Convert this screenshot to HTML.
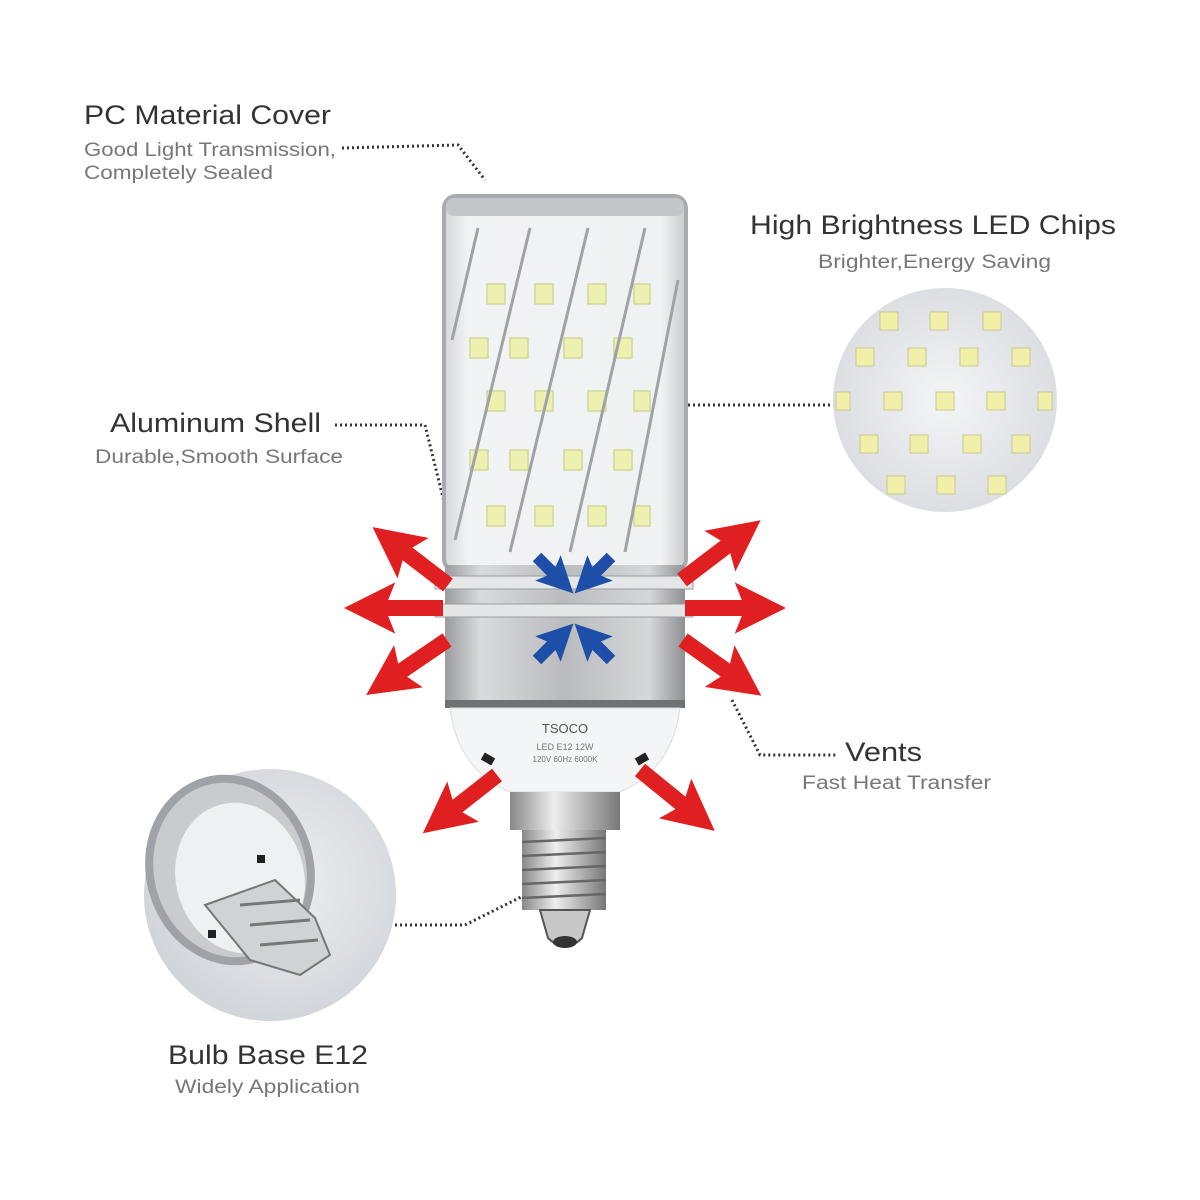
<!DOCTYPE html>
<html><head><meta charset="utf-8"><style>
html,body{margin:0;padding:0;background:#fff;width:1200px;height:1200px;overflow:hidden}
svg{display:block}
text{font-family:"Liberation Sans",sans-serif}
</style></head><body>
<svg width="1200" height="1200" viewBox="0 0 1200 1200" xmlns="http://www.w3.org/2000/svg">
<defs>
<linearGradient id="al" x1="0" x2="1">
<stop offset="0" stop-color="#9a9ca0"/><stop offset="0.15" stop-color="#d8dadc"/><stop offset="0.5" stop-color="#b9bbbe"/><stop offset="0.85" stop-color="#d5d7d9"/><stop offset="1" stop-color="#8e9094"/></linearGradient>
<linearGradient id="cov" x1="0" x2="1">
<stop offset="0" stop-color="#d4d6d8"/><stop offset="0.1" stop-color="#f2f3f4"/><stop offset="0.9" stop-color="#f0f1f2"/><stop offset="1" stop-color="#c8cacc"/></linearGradient>
<linearGradient id="scr" x1="0" x2="1">
<stop offset="0" stop-color="#888"/><stop offset="0.4" stop-color="#eee"/><stop offset="1" stop-color="#777"/></linearGradient>
<radialGradient id="c1" cx="0.5" cy="0.5" r="0.5"><stop offset="0" stop-color="#f4f5f7"/><stop offset="1" stop-color="#dcdee2"/></radialGradient>
<radialGradient id="c2" cx="0.55" cy="0.45" r="0.55"><stop offset="0" stop-color="#eef0f2"/><stop offset="1" stop-color="#d2d5da"/></radialGradient>
<marker id="rh" viewBox="0 0 10 10" refX="2" refY="5" markerWidth="3.2" markerHeight="3.2" orient="auto"><path d="M0,0 L10,5 L0,10 L2,5z" fill="#e02020"/></marker>
<marker id="bh" viewBox="0 0 10 10" refX="2" refY="5" markerWidth="3" markerHeight="3" orient="auto"><path d="M0,0 L10,5 L0,10 L2,5z" fill="#1e4fa8"/></marker>
</defs>

<!-- labels -->
<text x="84" y="124" font-size="27" fill="#333" textLength="247" lengthAdjust="spacingAndGlyphs">PC Material Cover</text>
<text x="84" y="156" font-size="19" fill="#777" textLength="252" lengthAdjust="spacingAndGlyphs">Good Light Transmission,</text>
<text x="84" y="179" font-size="19" fill="#777" textLength="189" lengthAdjust="spacingAndGlyphs">Completely Sealed</text>
<text x="750" y="234" font-size="27" fill="#333" textLength="366" lengthAdjust="spacingAndGlyphs">High Brightness LED Chips</text>
<text x="818" y="268" font-size="19" fill="#777" textLength="233" lengthAdjust="spacingAndGlyphs">Brighter,Energy Saving</text>
<text x="110" y="432" font-size="27" fill="#333" textLength="211" lengthAdjust="spacingAndGlyphs">Aluminum Shell</text>
<text x="95" y="463" font-size="19" fill="#777" textLength="248" lengthAdjust="spacingAndGlyphs">Durable,Smooth Surface</text>
<text x="845" y="761" font-size="27" fill="#333" textLength="77" lengthAdjust="spacingAndGlyphs">Vents</text>
<text x="802" y="789" font-size="19" fill="#777" textLength="189" lengthAdjust="spacingAndGlyphs">Fast Heat Transfer</text>
<text x="168" y="1064" font-size="27" fill="#333" textLength="200" lengthAdjust="spacingAndGlyphs">Bulb Base E12</text>
<text x="175" y="1093" font-size="19" fill="#777" textLength="185" lengthAdjust="spacingAndGlyphs">Widely Application</text>

<!-- leader lines -->
<g fill="none" stroke="#333" stroke-width="3" stroke-dasharray="2 3">
<path d="M342,148 L458,145 L485,180"/>
<path d="M335,425 L425,425 L488,680"/>
<path d="M835,405 L665,405 L620,456"/>
<path d="M732,700 L760,755 L838,755"/>
<path d="M355,925 L465,925 L525,895"/>
</g>

<!-- right circle -->
<circle cx="945" cy="400" r="112" fill="url(#c1)"/>
<g fill="#f0f0a8" stroke="#c8c890" stroke-width="1">
<rect x="880" y="312" width="18" height="18"/><rect x="930" y="312" width="18" height="18"/><rect x="983" y="312" width="18" height="18"/>
<rect x="856" y="348" width="18" height="18"/><rect x="908" y="348" width="18" height="18"/><rect x="960" y="348" width="18" height="18"/><rect x="1012" y="348" width="18" height="18"/>
<rect x="836" y="392" width="14" height="18"/><rect x="884" y="392" width="18" height="18"/><rect x="936" y="392" width="18" height="18"/><rect x="987" y="392" width="18" height="18"/><rect x="1038" y="392" width="14" height="18"/>
<rect x="860" y="435" width="18" height="18"/><rect x="910" y="435" width="18" height="18"/><rect x="963" y="435" width="18" height="18"/><rect x="1012" y="435" width="18" height="18"/>
<rect x="887" y="476" width="18" height="18"/><rect x="937" y="476" width="18" height="18"/><rect x="988" y="476" width="18" height="18"/>
</g>

<!-- bottom-left circle -->
<circle cx="270" cy="895" r="126" fill="url(#c2)"/>
<ellipse cx="230" cy="870" rx="80" ry="92" fill="#c9cbce" stroke="#9fa2a6" stroke-width="8" transform="rotate(-15 230 870)"/>
<ellipse cx="240" cy="878" rx="64" ry="76" fill="#eef0f2" transform="rotate(-15 240 878)"/>
<path d="M205,905 L275,880 L315,918 L330,955 L300,975 L250,960 Z" fill="#d0d2d5" stroke="#777" stroke-width="2"/>
<g stroke="#777" stroke-width="3"><line x1="240" y1="905" x2="300" y2="900"/><line x1="250" y1="925" x2="310" y2="920"/><line x1="260" y1="945" x2="318" y2="940"/></g>
<rect x="257" y="855" width="8" height="8" fill="#222"/><rect x="208" y="930" width="8" height="8" fill="#222"/>

<!-- cover -->
<rect x="444" y="196" width="242" height="375" rx="12" fill="url(#cov)" stroke="#a8aaae" stroke-width="4"/>
<rect x="446" y="198" width="238" height="18" rx="8" fill="#c4c6c9"/>
<g fill="#ecf1b0" stroke="#cfd79a" stroke-width="1.5">
<rect x="487" y="284" width="18" height="20"/><rect x="535" y="284" width="18" height="20"/><rect x="588" y="284" width="18" height="20"/><rect x="634" y="284" width="16" height="20"/>
<rect x="470" y="338" width="18" height="20"/><rect x="510" y="338" width="18" height="20"/><rect x="564" y="338" width="18" height="20"/><rect x="614" y="338" width="18" height="20"/>
<rect x="487" y="391" width="18" height="20"/><rect x="535" y="391" width="18" height="20"/><rect x="588" y="391" width="18" height="20"/><rect x="634" y="391" width="16" height="20"/>
<rect x="470" y="450" width="18" height="20"/><rect x="510" y="450" width="18" height="20"/><rect x="564" y="450" width="18" height="20"/><rect x="614" y="450" width="18" height="20"/>
<rect x="487" y="506" width="18" height="20"/><rect x="535" y="506" width="18" height="20"/><rect x="588" y="506" width="18" height="20"/><rect x="634" y="506" width="16" height="20"/>
</g>
<g stroke="#a0a2a6" stroke-width="3" fill="none">
<line x1="530" y1="228" x2="455" y2="540"/><line x1="588" y1="228" x2="510" y2="552"/><line x1="645" y1="228" x2="570" y2="552"/><line x1="678" y1="280" x2="625" y2="552"/><line x1="478" y1="228" x2="452" y2="340"/>
</g>

<!-- aluminum shell -->
<rect x="445" y="565" width="240" height="142" rx="4" fill="url(#al)"/>
<rect x="435" y="576" width="258" height="13" fill="#e4e6e8" stroke="#9a9ca0"/>
<rect x="435" y="604" width="258" height="13" fill="#e4e6e8" stroke="#9a9ca0"/>
<rect x="445" y="700" width="240" height="8" fill="#6f7175"/>

<!-- white base -->
<path d="M450,708 L680,708 Q672,770 620,792 L510,792 Q458,770 450,708 Z" fill="#f4f5f6" stroke="#dcdde0"/>
<text x="565" y="733" font-size="13" fill="#555" text-anchor="middle" font-family="Liberation Serif">TSOCO</text>
<text x="565" y="750" font-size="9" fill="#777" text-anchor="middle">LED E12 12W</text>
<text x="565" y="762" font-size="8" fill="#777" text-anchor="middle">120V 60Hz 6000K</text>
<rect x="482" y="755" width="12" height="8" fill="#222" transform="rotate(30 488 759)"/>
<rect x="636" y="755" width="12" height="8" fill="#222" transform="rotate(-30 642 759)"/>

<!-- screw -->
<rect x="510" y="792" width="110" height="38" fill="url(#scr)"/>
<rect x="522" y="830" width="84" height="80" fill="url(#scr)"/>
<g stroke="#666" stroke-width="2.5"><line x1="522" y1="842" x2="606" y2="838"/><line x1="522" y1="856" x2="606" y2="852"/><line x1="522" y1="870" x2="606" y2="866"/><line x1="522" y1="884" x2="606" y2="880"/><line x1="522" y1="898" x2="606" y2="894"/></g>
<path d="M540,910 L590,910 L582,938 Q565,955 548,938 Z" fill="#c8c8c8" stroke="#555" stroke-width="2"/>
<ellipse cx="565" cy="942" rx="12" ry="6" fill="#333"/>

<!-- red arrows -->
<g stroke="#e02020" stroke-width="16" fill="none" marker-end="url(#rh)">
<line x1="448" y1="585" x2="405" y2="552"/>
<line x1="443" y1="608" x2="385" y2="608"/>
<line x1="447" y1="640" x2="400" y2="672"/>
<line x1="682" y1="580" x2="728" y2="545"/>
<line x1="685" y1="608" x2="745" y2="608"/>
<line x1="683" y1="640" x2="728" y2="672"/>
<line x1="497" y1="775" x2="455" y2="808"/>
<line x1="640" y1="770" x2="683" y2="805"/>
</g>
<!-- blue arrows -->
<g stroke="#1e4fa8" stroke-width="12" fill="none" marker-end="url(#bh)">
<line x1="537" y1="557" x2="553" y2="573"/>
<line x1="611" y1="557" x2="595" y2="573"/>
<line x1="537" y1="660" x2="553" y2="644"/>
<line x1="611" y1="660" x2="595" y2="644"/>
</g>
</svg>
</body></html>
